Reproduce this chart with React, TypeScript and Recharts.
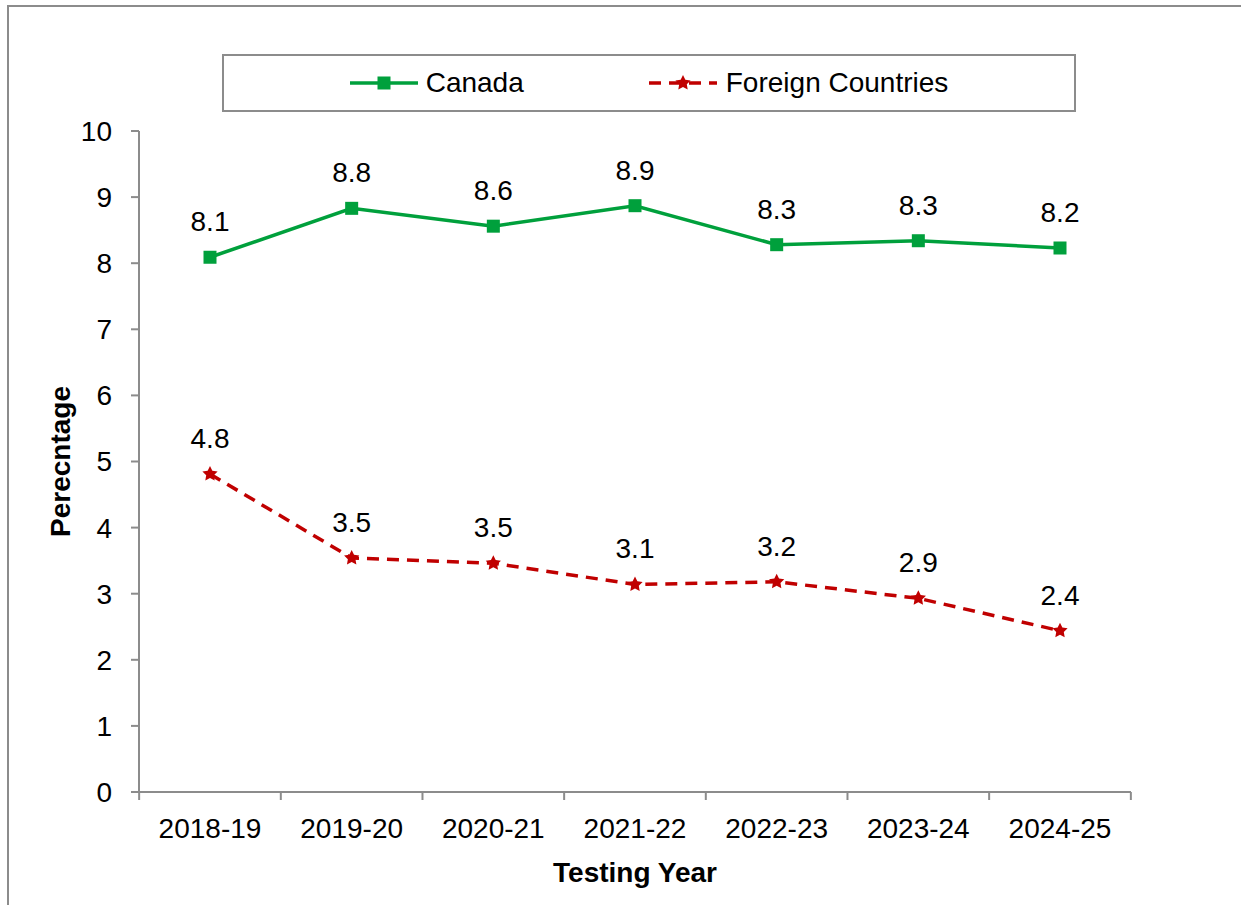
import React from "react";
import { LineChart, Line, XAxis, YAxis, Legend, LabelList, Label } from "recharts";

// Testing years and the two series (percentages)
const years = ["2018-19", "2019-20", "2020-21", "2021-22", "2022-23", "2023-24", "2024-25"];
const canada = [8.09, 8.83, 8.56, 8.87, 8.28, 8.34, 8.23];
const foreign = [4.81, 3.54, 3.46, 3.14, 3.18, 2.93, 2.44];
const yTicks = [0, 1, 2, 3, 4, 5, 6, 7, 8, 9, 10];

const data = years.map((year, i) => ({ year, canada: canada[i], foreign: foreign[i] }));

const GREEN = "#00A03C";
const RED = "#C00000";
const AXIS = "#8c8c8c";
const FONT = "'Liberation Sans', Arial, sans-serif";

const starPath = (cx: number, cy: number, r: number, inner: number) => {
  let d = "";
  for (let i = 0; i < 10; i++) {
    const rad = i % 2 === 0 ? r : inner;
    const a = (Math.PI / 5) * i - Math.PI / 2;
    d += (i === 0 ? "M" : "L") + (cx + rad * Math.cos(a)).toFixed(2) + "," + (cy + rad * Math.sin(a)).toFixed(2);
  }
  return d + "Z";
};

const SquareDot = (p: any) => (
  <rect key={`sq-${p.index}`} x={p.cx - 6.5} y={p.cy - 6.5} width={13} height={13} fill={GREEN} />
);

const StarDot = (p: any) => (
  <path key={`st-${p.index}`} d={starPath(p.cx, p.cy, 8, 4)} fill={RED} />
);

// category label plus Excel-style tick marks on the category boundaries
const YearTick = (p: any) => {
  const half = p.width / years.length / 2;
  const last = p.index === years.length - 1;
  return (
    <g>
      <line x1={p.x - half} y1={p.y} x2={p.x - half} y2={p.y + 8} stroke={AXIS} strokeWidth={2} />
      {last && <line x1={p.x + half} y1={p.y} x2={p.x + half} y2={p.y + 8} stroke={AXIS} strokeWidth={2} />}
      <text x={p.x} y={p.y + 46} textAnchor="middle" fill="#000" fontSize={28} fontFamily={FONT}>
        {p.payload.value}
      </text>
    </g>
  );
};

const fmt = (v: any) => Number(v).toFixed(1);

const LegendBox = () => (
  <div
    style={{
      width: 850,
      height: 54,
      border: `2px solid ${AXIS}`,
      display: "flex",
      alignItems: "center",
      justifyContent: "center",
      fontFamily: FONT,
      fontSize: 28,
      color: "#000",
      background: "#fff",
    }}
  >
    <svg width={68} height={20} style={{ marginRight: 8 }}>
      <line x1={0} y1={10} x2={68} y2={10} stroke={GREEN} strokeWidth={3.5} />
      <rect x={27.5} y={3.5} width={13} height={13} fill={GREEN} />
    </svg>
    <span style={{ marginRight: 125 }}>Canada</span>
    <svg width={68} height={20} style={{ marginRight: 9 }}>
      <line x1={0} y1={10} x2={68} y2={10} stroke={RED} strokeWidth={3.5} strokeDasharray="12 8" />
      <path d={starPath(34, 10, 8, 4)} fill={RED} />
    </svg>
    <span>Foreign Countries</span>
  </div>
);

const YTitle = (props: any) => {
  const vb = props.viewBox || { x: 79, y: 131, width: 60, height: 661 };
  const cx = 60;
  const cy = vb.y + vb.height / 2;
  return (
    <text
      x={cx}
      y={cy}
      transform={`rotate(-90 ${cx} ${cy})`}
      textAnchor="middle"
      dominantBaseline="central"
      fontFamily={FONT}
      fontSize={28}
      fontWeight="bold"
      fill="#000"
    >
      Perecntage
    </text>
  );
};

const XTitle = (props: any) => {
  const vb = props.viewBox || { x: 139, y: 792, width: 992, height: 60 };
  return (
    <text
      x={vb.x + vb.width / 2}
      y={882}
      textAnchor="middle"
      fontFamily={FONT}
      fontSize={28}
      fontWeight="bold"
      fill="#000"
    >
      Testing Year
    </text>
  );
};

export default function App() {
  return (
    <div style={{ position: "absolute", left: 0, top: 0, width: 1241, height: 905, overflow: "hidden", background: "#fff" }}>
      <div
        style={{
          position: "absolute",
          left: 7,
          top: 5,
          width: 1300,
          height: 1000,
          border: `2px solid ${AXIS}`,
        }}
      />
      <div style={{ position: "absolute", left: 0, top: 0 }}>
        <LineChart width={1241} height={905} data={data} margin={{ top: 73, right: 110, bottom: 53, left: 79 }}>
          <XAxis
            dataKey="year"
            height={60}
            stroke={AXIS}
            strokeWidth={2}
            tickLine={false}
            tickSize={0}
            tickMargin={0}
            padding={{ left: 71, right: 71 }}
            interval={0}
            tick={<YearTick />}
          >
            <Label content={<XTitle />} />
          </XAxis>
          <YAxis
            width={60}
            domain={[0, 10]}
            ticks={yTicks}
            interval={0}
            stroke={AXIS}
            strokeWidth={2}
            tickSize={8}
            tickMargin={19}
            tick={{ fill: "#000", fontSize: 28, fontFamily: FONT }}
          >
            <Label content={<YTitle />} />
          </YAxis>
          <Legend
            verticalAlign="top"
            content={<LegendBox />}
            wrapperStyle={{ position: "absolute", left: 222, top: 54, width: 854, height: 58 }}
          />
          <Line
            dataKey="canada"
            name="Canada"
            stroke={GREEN}
            strokeWidth={3.5}
            dot={SquareDot}
            activeDot={false}
            isAnimationActive={false}
          >
            <LabelList dataKey="canada" position="top" offset={26} formatter={fmt} fill="#000" fontSize={28} fontFamily={FONT} />
          </Line>
          <Line
            dataKey="foreign"
            name="Foreign Countries"
            stroke={RED}
            strokeWidth={3.5}
            strokeDasharray="12 8"
            dot={StarDot}
            activeDot={false}
            isAnimationActive={false}
          >
            <LabelList dataKey="foreign" position="top" offset={26} formatter={fmt} fill="#000" fontSize={28} fontFamily={FONT} />
          </Line>
        </LineChart>
      </div>
    </div>
  );
}
